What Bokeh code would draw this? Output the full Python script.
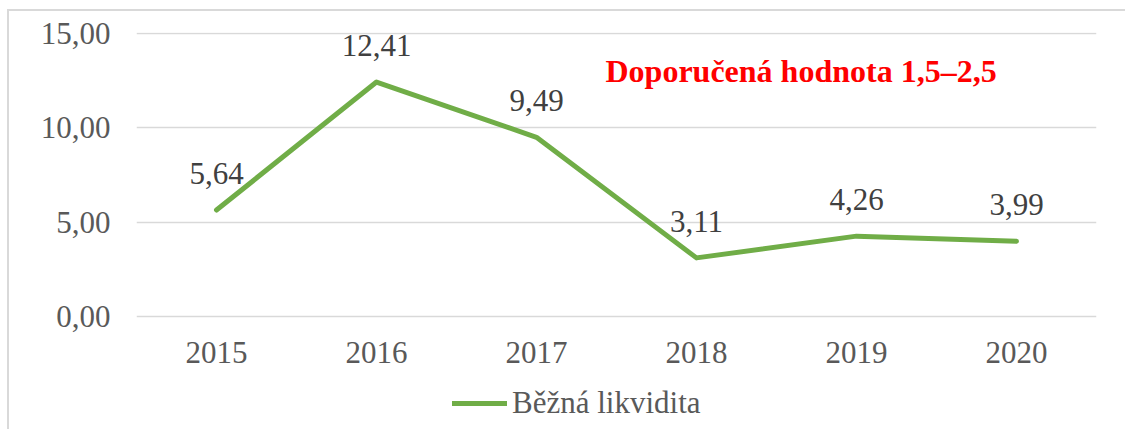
from bokeh.plotting import figure
from bokeh.models import ColumnDataSource, LabelSet, Label, Legend, LegendItem, FixedTicker
from bokeh.embed import file_html
from bokeh.resources import INLINE

years = ["2015", "2016", "2017", "2018", "2019", "2020"]
values = [5.64, 12.41, 9.49, 3.11, 4.26, 3.99]
y_ticks = [0, 5, 10, 15]
series_name = "Běžná likvidita"
note = "Doporučená hodnota 1,5–2,5"

FONT = "Liberation Serif"

src = ColumnDataSource(dict(
    x=years, y=values,
    lbl=[f"{v:.2f}".replace(".", ",") for v in values],
))
cat_src = ColumnDataSource(dict(x=years, y=[0] * len(years), t=years))

# frame spans from the top gridline down to the bottom of the canvas so the
# legend (drawn inside the frame) is not clipped; 0 stays at the same pixel row
PX_PER_UNIT = 284 / 15.0
y_start = -(115.0 / PX_PER_UNIT)
y_end = 15 + 0.6 / PX_PER_UNIT

p = figure(x_range=years, y_range=(y_start, y_end), width=1118, height=420,
           output_backend="svg", toolbar_location=None, x_axis_location=None,
           min_border_left=127, min_border_right=31,
           min_border_top=21, min_border_bottom=0)
p.styles = {"border-left": "2px solid #d9d9d9", "border-top": "2px solid #d9d9d9",
            "margin-left": "7px", "margin-top": "9px"}
p.outline_line_color = None
p.background_fill_color = "white"

line = p.line("x", "y", source=src, line_color="#70AD47", line_width=5,
              line_cap="round", line_join="round")

p.yaxis.ticker = FixedTicker(ticks=y_ticks)
p.yaxis.major_label_overrides = {t: f"{t:.2f}".replace(".", ",") for t in y_ticks}
p.yaxis.axis_line_color = None
p.yaxis.major_tick_line_color = None
p.yaxis.minor_tick_line_color = None
p.yaxis.major_label_text_font = FONT
p.yaxis.major_label_text_font_size = "31px"
p.yaxis.major_label_text_color = "#595959"
p.yaxis.major_label_standoff = 20

p.xgrid.grid_line_color = None
p.ygrid.grid_line_color = "#d9d9d9"
p.ygrid.grid_line_width = 1.5

# category (x tick) labels
p.add_layout(LabelSet(x="x", y="y", text="t", source=cat_src, text_align="center",
                      text_baseline="alphabetic", y_offset=-46,
                      text_font=FONT, text_font_size="31px", text_color="#595959"))

labels = LabelSet(x="x", y="y", text="lbl", source=src, text_align="center",
                  text_baseline="alphabetic", y_offset=26,
                  text_font=FONT, text_font_size="31px", text_color="#404040")
p.add_layout(labels)

note_x = years.index("2018") + 0.5
p.add_layout(Label(x=note_x, y=12.97, x_offset=-91, text=note, text_align="left",
                   text_baseline="alphabetic", text_font=FONT, text_font_size="32px",
                   text_font_style="bold", text_color="#FF0000"))

legend = Legend(items=[LegendItem(label=series_name, renderers=[line])],
                location=(316, 10), orientation="horizontal",
                glyph_width=55, glyph_height=20, label_standoff=5,
                padding=0, margin=0, border_line_color=None,
                background_fill_alpha=0,
                label_text_font=FONT, label_text_font_size="31px",
                label_text_color="#595959")
p.add_layout(legend, "center")

open("out.html", "w").write(file_html(p, INLINE))
